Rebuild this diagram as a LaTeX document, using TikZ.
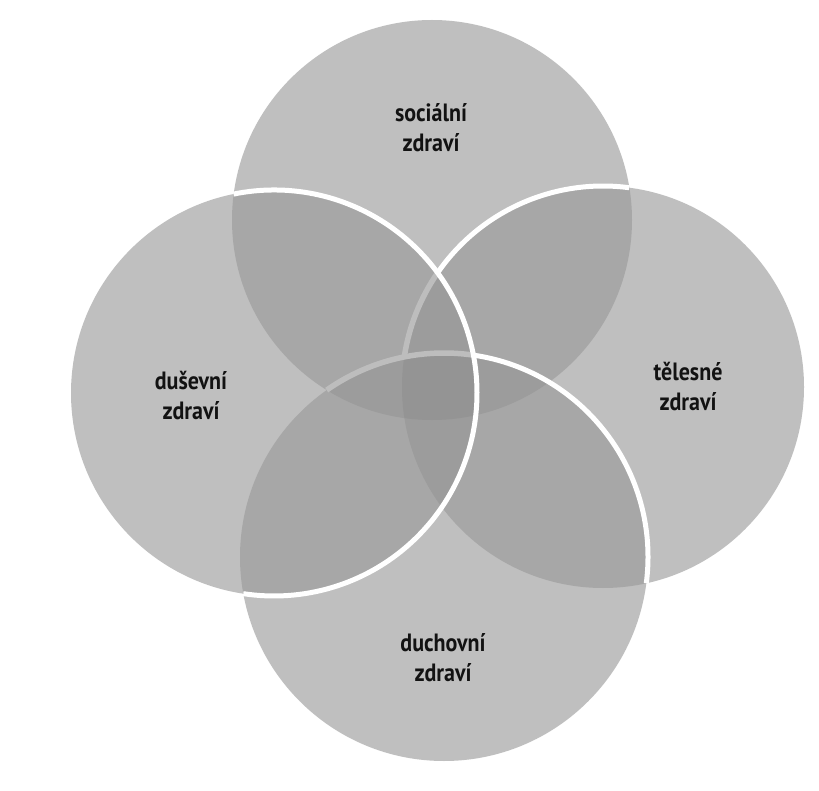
\documentclass[tikz,border=0pt]{standalone}
\usepackage{fontspec}
\newfontfamily\labelfont[FakeStretch=0.88]{PT Sans}
\definecolor{cone}{gray}{0.75}
\definecolor{ctwo}{gray}{0.655}
\definecolor{cthree}{gray}{0.61}
\definecolor{cfour}{gray}{0.58}
\definecolor{cband}{gray}{0.74}
\definecolor{ctext}{gray}{0.07}
\begin{document}
\begin{tikzpicture}[x=1pt,y=-1pt,
  lbl/.style={font=\labelfont\bfseries\fontsize{25}{30}\selectfont, align=center, text=ctext, inner sep=0pt},
  whitearc/.style={draw=white, line width=5pt},
  bandarc/.style={draw=cband, line width=5.5pt}]
\useasboundingbox (0,0) rectangle (819,791);
\fill[white] (0,0) rectangle (819,791);
\coordinate (cT) at (432,220);
\coordinate (cL) at (274,393);
\coordinate (cR) at (603,387);
\coordinate (cB) at (444,557);
\def\cirT{(cT) circle[radius=200]}
\def\cirL{(cL) circle[radius=203]}
\def\cirR{(cR) circle[radius=201]}
\def\cirB{(cB) circle[radius=204]}
% single
\fill[cone] \cirT;
\fill[cone] \cirL;
\fill[cone] \cirR;
\fill[cone] \cirB;
% pairs
\begin{scope}\clip \cirT; \fill[ctwo] \cirL; \fill[ctwo] \cirR; \fill[ctwo] \cirB;\end{scope}
\begin{scope}\clip \cirL; \fill[ctwo] \cirR; \fill[ctwo] \cirB;\end{scope}
\begin{scope}\clip \cirR; \fill[ctwo] \cirB;\end{scope}
% triples
\begin{scope}\clip \cirT; \clip \cirL; \fill[cthree] \cirR; \fill[cthree] \cirB;\end{scope}
\begin{scope}\clip \cirT; \clip \cirR; \fill[cthree] \cirB;\end{scope}
\begin{scope}\clip \cirL; \clip \cirR; \fill[cthree] \cirB;\end{scope}
% quad
\begin{scope}\clip \cirT; \clip \cirL; \clip \cirR; \fill[cfour] \cirB;\end{scope}
% covered strokes
\draw[bandarc] (cR) ++(-171.4:201) arc[start angle=-171.4, end angle=-145.4, radius=201];
\draw[bandarc] (cB) ++(-125.1:204) arc[start angle=-125.1, end angle=-81.7, radius=204];
% white strokes
\draw[whitearc] (cR) ++(-145.4:201) arc[start angle=-145.4, end angle=-82.5, radius=201];
\draw[whitearc] (cB) ++(-81.7:204) arc[start angle=-81.7, end angle=7.4, radius=204];
\draw[whitearc] (cL) ++(-101.5:203) arc[start angle=-101.5, end angle=98.7, radius=203];
% labels
\node[lbl] (soc) at (431,128) {sociální\\zdraví};
\node[lbl] (dus) at (191,396) {duševní\\zdraví};
\node[lbl] (tel) at (688,387) {tělesné\\zdraví};
\node[lbl] (duch) at (443,658) {duchovní\\zdraví};
\end{tikzpicture}
\end{document}
